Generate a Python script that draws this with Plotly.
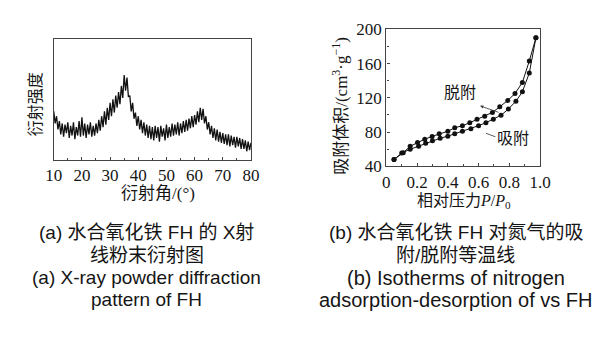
import plotly.graph_objects as go

W, H = 603, 348

# ---- (a) XRD data: 2-theta from 10 to 80 in 0.5 deg steps ----
xrd_start, xrd_step = 10.0, 0.5
xrd_intensity = [
    40, 30, 36, 25, 32, 21, 30, 19, 29, 22,
    31, 18, 28, 20, 31, 17, 27, 20, 32, 19,
    35, 20, 30, 18, 29, 21, 31, 19, 28, 20,
    30, 22, 33, 24, 36, 27, 40, 29, 43, 33,
    47, 36, 50, 39, 53, 43, 56, 46, 61, 51,
    70, 57, 68, 52, 53, 40, 47, 34, 39, 28,
    36, 25, 33, 22, 31, 20, 29, 18, 28, 17,
    27, 16, 28, 18, 27, 15, 28, 19, 26, 16,
    29, 18, 27, 19, 30, 20, 29, 21, 31, 20,
    30, 22, 32, 23, 33, 24, 34, 26, 36, 27,
    37, 29, 40, 31, 43, 33, 42, 30, 36, 25,
    31, 21, 28, 18, 26, 16, 25, 15, 23, 14,
    22, 13, 21, 12, 21, 11, 20, 12, 19, 10,
    19, 11, 18, 9, 17, 9, 16, 7, 15, 8,
    14,
]
xrd_angle = [xrd_start + xrd_step * i for i in range(len(xrd_intensity))]
xrd_xticks = [10, 20, 30, 40, 50, 60, 70, 80]

# ---- (b) N2 isotherm data ----
ads_p = [0.05, 0.10, 0.155, 0.21, 0.256, 0.30, 0.35, 0.40, 0.445, 0.495,
         0.55, 0.60, 0.648, 0.696, 0.746, 0.794, 0.843, 0.885, 0.93, 0.973]
ads_v = [48, 55.5, 60, 63.5, 67, 70, 72.8, 75.3, 78, 81,
         84, 87.5, 91, 95, 99.6, 107, 116, 127, 149, 190]
des_p = [0.05, 0.11, 0.155, 0.203, 0.25, 0.298, 0.344, 0.40, 0.445, 0.495,
         0.543, 0.59, 0.64, 0.69, 0.738, 0.79, 0.837, 0.885, 0.93, 0.973]
des_v = [48, 56, 63.5, 68, 71.7, 75, 78, 81, 85, 87.5,
         91, 95, 98.5, 103, 109.5, 117, 125, 138, 163, 190]
iso_xticks = [0, 0.2, 0.4, 0.6, 0.8, 1.0]
iso_xticklabels = ["0", "0.2", "0.4", "0.6", "0.8", "1.0"]
iso_yticks = [40, 80, 120, 160, 200]

captions_a = ["(a) 水合氧化铁 FH 的 X射", "线粉末衍射图",
              "(a) X-ray powder diffraction", "pattern of FH"]
captions_b = ["(b) 水合氧化铁 FH 对氮气的吸", "附/脱附等温线",
              "(b) Isotherms of nitrogen", "adsorption-desorption of vs FH"]


def px(x):
    return x / W


def py(y):
    return 1 - y / H


SERIF = "Liberation Serif, Times New Roman, Noto Sans CJK SC, serif"
SANS = "Liberation Sans, Arial, Noto Sans CJK SC, sans-serif"
AX = "#444444"
TXT = "#151515"

fig = go.Figure()
fig.add_trace(go.Scatter(x=xrd_angle, y=xrd_intensity, mode="lines",
                         line=dict(color="#111111", width=1.3),
                         xaxis="x", yaxis="y", showlegend=False))
fig.add_trace(go.Scatter(x=ads_p, y=ads_v, mode="lines+markers",
                         line=dict(color="#111111", width=1),
                         marker=dict(color="#111111", size=5),
                         xaxis="x2", yaxis="y2", showlegend=False))
fig.add_trace(go.Scatter(x=des_p, y=des_v, mode="lines+markers",
                         line=dict(color="#111111", width=1),
                         marker=dict(color="#111111", size=5),
                         xaxis="x2", yaxis="y2", showlegend=False))

common = dict(showline=True, linecolor=AX, linewidth=1.4, mirror=True,
              showgrid=False, zeroline=False, tickcolor=AX,
              ticklen=3, tickfont=dict(family=SERIF, size=17, color=TXT))

fig.update_layout(
    width=W, height=H, margin=dict(l=0, r=0, t=0, b=0),
    paper_bgcolor="white", plot_bgcolor="white",
    xaxis=dict(domain=[px(38), px(242)], range=[10, 80], tickvals=xrd_xticks,
               ticks="inside",
               minor=dict(ticks="inside", ticklen=2, tickcolor=AX, dtick=5),
               anchor="y", **common),
    yaxis=dict(domain=[py(151), py(23)], range=[0, 100], showticklabels=False,
               ticks="", anchor="x", **common),
    xaxis2=dict(domain=[px(382), px(541)], range=[0, 1.0], tickvals=iso_xticks,
                ticktext=iso_xticklabels, ticks="inside",
                minor=dict(ticks="inside", ticklen=2, tickcolor=AX, dtick=0.1),
                anchor="y2", **common),
    yaxis2=dict(domain=[py(158), py(13)], range=[40, 200], tickvals=iso_yticks,
                ticks="inside",
                minor=dict(ticks="inside", ticklen=2, tickcolor=AX, dtick=20),
                anchor="x2", **common),
)

ann = []
# axis titles
ann.append(dict(x=px(146), y=py(187), text="衍射角/(°)", showarrow=False,
                font=dict(family=SERIF, size=17, color=TXT)))
ann.append(dict(x=px(20), y=py(92), text="衍射强度", showarrow=False, textangle=-90,
                font=dict(family=SERIF, size=16, color=TXT)))
ann.append(dict(x=px(462), y=py(195), text="相对压力<i>P</i>/<i>P</i><sub>0</sub>",
                showarrow=False, font=dict(family=SERIF, size=16, color=TXT)))
ann.append(dict(x=px(334), y=py(94), text="吸附体积/(cm<sup>3</sup>·g<sup>−1</sup>)",
                showarrow=False, textangle=-90,
                font=dict(family=SERIF, size=17, color=TXT)))
# curve labels
ann.append(dict(x=px(458), y=py(80), text="脱附", showarrow=False,
                font=dict(family=SERIF, size=16, color=TXT)))
ann.append(dict(x=px(479), y=py(94), ax=20, ay=7, axref="pixel", ayref="pixel",
                text="", showarrow=True,
                arrowhead=2, arrowsize=0.8, arrowwidth=0.8, arrowcolor="#333"))
ann.append(dict(x=px(513), y=py(128), text="吸附", showarrow=False,
                font=dict(family=SERIF, size=16, color=TXT)))
ann.append(dict(x=px(485), y=py(123), ax=11, ay=4, axref="pixel", ayref="pixel",
                text="", showarrow=True,
                arrowhead=0, arrowwidth=0.8, arrowcolor="#333"))
# captions
cap_y = [228, 252, 276, 299]
for i, (t, y) in enumerate(zip(captions_a, cap_y)):
    ann.append(dict(x=px(134), y=py(y), text=t, showarrow=False,
                    font=dict(family=SANS, size=19, color=TXT)))
for i, (t, y) in enumerate(zip(captions_b, cap_y)):
    ann.append(dict(x=px(454), y=py(y), text=t, showarrow=False,
                    font=dict(family=SANS, size=19 if i < 2 else 20, color=TXT)))

for a in ann:
    a.setdefault("xref", "paper")
    a.setdefault("yref", "paper")
    a.setdefault("xanchor", "center")
    a.setdefault("yanchor", "middle")
fig.update_layout(annotations=ann)

fig.write_html("out.html")
